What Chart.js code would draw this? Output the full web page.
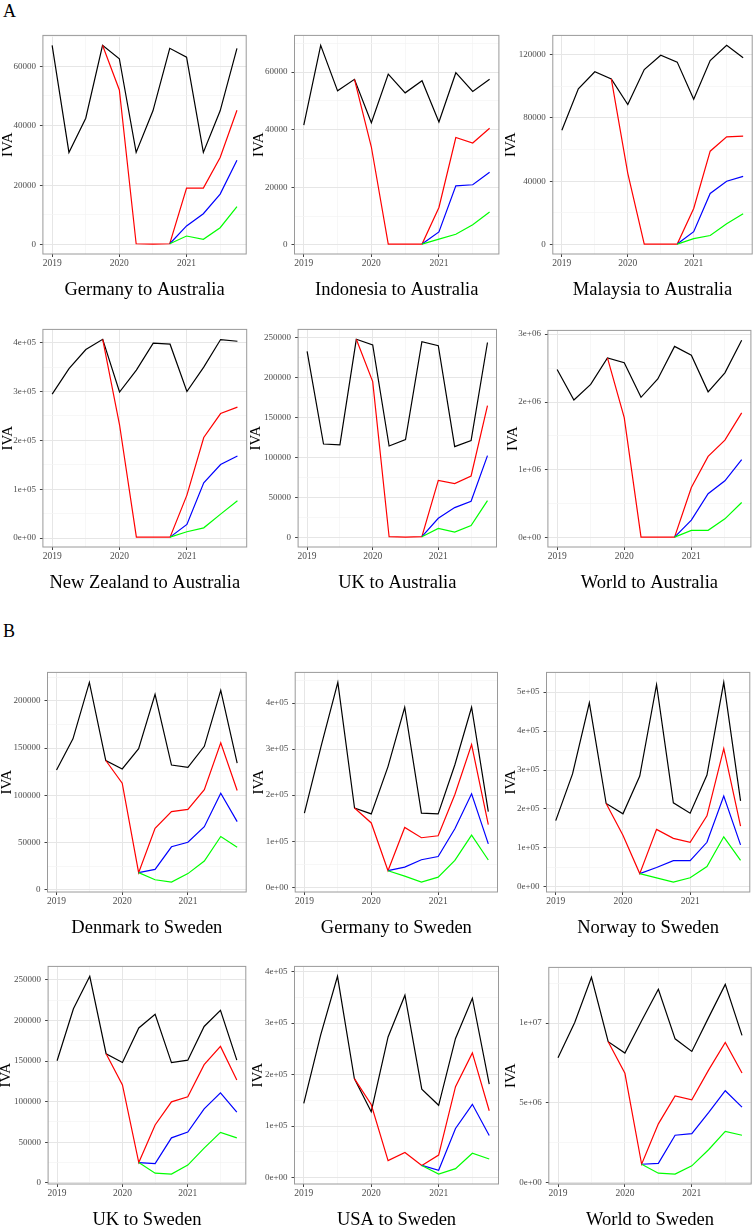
<!DOCTYPE html>
<html>
<head>
<meta charset="utf-8">
<script src="https://cdn.jsdelivr.net/npm/chart.js@4"></script>
<style>
  body { margin: 0; background: #fff; width: 754px; height: 1229px; position: relative; overflow: hidden; font-family: "Liberation Serif", serif; }
  canvas { position: absolute; }
  .tag { position: absolute; left: 3px; font-size: 18px; line-height: 18px; color: #000; }
</style>
</head>
<body>
<div class="tag" style="top:2px">A</div>
<div class="tag" style="top:622px">B</div>
<script>
const quarters = [2019, 2019.25, 2019.5, 2019.75, 2020, 2020.25, 2020.5, 2020.75, 2021, 2021.25, 2021.5, 2021.75];
const n = null;

// Germany to Australia
const gerAusBlack = [67000, 31000, 42500, 67000, 62500, 31000, 45000, 66000, 63000, 31000, 45000, 66000];
const gerAusRed   = [n, n, n, 67000, 52000, 300, 200, 300, 19000, 19000, 29300, 45200];
const gerAusBlue  = [n, n, n, n, n, n, n, 300, 6300, 10400, 17000, 28400];
const gerAusGreen = [n, n, n, n, n, n, n, 300, 2900, 1800, 5700, 12800];

// Indonesia to Australia
const indAusBlack = [41600, 69300, 53500, 57500, 42400, 59300, 52800, 57000, 42700, 59800, 53300, 57500];
const indAusRed   = [n, n, n, 57500, 34000, 300, 300, 300, 13000, 37300, 35400, 40500];
const indAusBlue  = [n, n, n, n, n, n, n, 300, 4500, 20500, 20900, 25200];
const indAusGreen = [n, n, n, n, n, n, n, 300, 2000, 3700, 7000, 11400];

// Malaysia to Australia
const malAusBlack = [72200, 98400, 109200, 104700, 88500, 110600, 119600, 115300, 91900, 116300, 125900, 118000];
const malAusRed   = [n, n, n, 104700, 45000, 300, 300, 300, 22800, 59000, 68100, 68500];
const malAusBlue  = [n, n, n, n, n, n, n, 300, 8100, 32300, 40000, 43100];
const malAusGreen = [n, n, n, n, n, n, n, 300, 3700, 5700, 13200, 19500];

// New Zealand to Australia
const nzlAusBlack = [294600, 347000, 386000, 407000, 299000, 344000, 399000, 397000, 300000, 350000, 406500, 403000];
const nzlAusRed   = [n, n, n, 407000, 232000, 2000, 2000, 2000, 88000, 206000, 255000, 268000];
const nzlAusBlue  = [n, n, n, n, n, n, n, 2000, 28000, 113000, 150600, 168000];
const nzlAusGreen = [n, n, n, n, n, n, n, 2000, 13000, 21000, 49000, 76600];

// UK to Australia
const ukAusBlack = [233000, 117000, 116000, 248000, 241000, 114500, 122600, 245000, 240000, 113700, 121400, 244000];
const ukAusRed   = [n, n, n, 248000, 195000, 1000, 500, 1000, 71500, 67500, 77000, 165000];
const ukAusBlue  = [n, n, n, n, n, n, n, 1000, 24000, 37400, 45400, 102500];
const ukAusGreen = [n, n, n, n, n, n, n, 1000, 11300, 6800, 14900, 46200];

// World to Australia
const wldAusBlack = [2480000, 2030000, 2260000, 2650000, 2580000, 2070000, 2340000, 2820000, 2690000, 2150000, 2430000, 2910000];
const wldAusRed   = [n, n, n, 2650000, 1770000, 10000, 10000, 10000, 740000, 1200000, 1440000, 1840000];
const wldAusBlue  = [n, n, n, n, n, n, n, 10000, 260000, 650000, 840000, 1150000];
const wldAusGreen = [n, n, n, n, n, n, n, 10000, 110000, 110000, 280000, 520000];

// Denmark to Sweden
const dnkSweBlack = [126800, 159700, 219500, 136800, 127900, 149400, 206800, 132000, 129600, 151800, 211000, 134000];
const dnkSweRed   = [n, n, n, 136800, 112800, 18100, 65000, 82700, 85100, 106000, 155600, 105000];
const dnkSweBlue  = [n, n, n, n, n, 18100, 21500, 45500, 50300, 66700, 102200, 72100];
const dnkSweGreen = [n, n, n, n, n, 18100, 10600, 8200, 17100, 30400, 56400, 45100];

// Germany to Sweden
const gerSweBlack = [160700, 306700, 445000, 172000, 159300, 262000, 391000, 160700, 159300, 266000, 391000, 164000];
const gerSweRed   = [n, n, n, 172000, 139600, 35800, 129800, 107400, 111600, 201400, 310000, 136000];
const gerSweBlue  = [n, n, n, n, n, 35800, 43500, 59600, 66700, 127000, 202800, 94000];
const gerSweGreen = [n, n, n, n, n, 35800, 23900, 11200, 21800, 58200, 113000, 59000];

// Norway to Sweden
const norSweBlack = [170000, 290000, 472600, 214000, 187400, 284400, 519000, 215600, 189000, 287000, 525000, 220600];
const norSweRed   = [n, n, n, 214000, 132700, 34000, 147600, 124400, 114400, 182400, 355000, 155900];
const norSweBlue  = [n, n, n, n, n, 34000, 49800, 67200, 67200, 114400, 233000, 107800];
const norSweGreen = [n, n, n, n, n, 34000, 23200, 12400, 23200, 52200, 128500, 68000];

// UK to Sweden
const ukSweBlack = [150300, 214400, 254400, 159000, 148300, 190700, 207700, 148000, 151100, 192600, 212400, 151100];
const ukSweRed   = [n, n, n, 159000, 120600, 24900, 71200, 99700, 106000, 145600, 168000, 126600];
const ukSweBlue  = [n, n, n, n, n, 24900, 23700, 55400, 62500, 91000, 110800, 87000];
const ukSweGreen = [n, n, n, n, n, 24900, 11900, 10700, 21800, 42700, 62100, 55400];

// USA to Sweden
const usaSweBlack = [144000, 276400, 390600, 192200, 128000, 273000, 354000, 171600, 140400, 270000, 348000, 181600];
const usaSweRed   = [n, n, n, 192200, 142000, 33000, 48700, 23700, 43700, 176600, 242000, 129800];
const usaSweBlue  = [n, n, n, n, n, n, n, 23700, 14400, 95500, 142300, 81700];
const usaSweGreen = [n, n, n, n, n, n, n, 23700, 6900, 17500, 47400, 36200];

// World to Sweden
const wldSweBlack = [7820000, 10040000, 12870000, 8830000, 8120000, 10140000, 12120000, 9010000, 8220000, 10340000, 12420000, 9230000];
const wldSweRed   = [n, n, n, 8830000, 6850000, 1150000, 3680000, 5430000, 5190000, 7050000, 8790000, 6870000];
const wldSweBlue  = [n, n, n, n, n, 1150000, 1210000, 2970000, 3070000, 4380000, 5760000, 4730000];
const wldSweGreen = [n, n, n, n, n, 1150000, 590000, 530000, 1050000, 2060000, 3210000, 2970000];

const panels = [
  { title: "Germany to Australia", series: [gerAusBlack, gerAusRed, gerAusBlue, gerAusGreen], major: 20000, sci: false },
  { title: "Indonesia to Australia", series: [indAusBlack, indAusRed, indAusBlue, indAusGreen], major: 20000, sci: false },
  { title: "Malaysia to Australia", series: [malAusBlack, malAusRed, malAusBlue, malAusGreen], major: 40000, sci: false },
  { title: "New Zealand to Australia", series: [nzlAusBlack, nzlAusRed, nzlAusBlue, nzlAusGreen], major: 100000, sci: true },
  { title: "UK to Australia", series: [ukAusBlack, ukAusRed, ukAusBlue, ukAusGreen], major: 50000, sci: false },
  { title: "World to Australia", series: [wldAusBlack, wldAusRed, wldAusBlue, wldAusGreen], major: 1000000, sci: true },
  { title: "Denmark to Sweden", series: [dnkSweBlack, dnkSweRed, dnkSweBlue, dnkSweGreen], major: 50000, sci: false },
  { title: "Germany to Sweden", series: [gerSweBlack, gerSweRed, gerSweBlue, gerSweGreen], major: 100000, sci: true },
  { title: "Norway to Sweden", series: [norSweBlack, norSweRed, norSweBlue, norSweGreen], major: 100000, sci: true },
  { title: "UK to Sweden", series: [ukSweBlack, ukSweRed, ukSweBlue, ukSweGreen], major: 50000, sci: false },
  { title: "USA to Sweden", series: [usaSweBlack, usaSweRed, usaSweBlue, usaSweGreen], major: 100000, sci: true },
  { title: "World to Sweden", series: [wldSweBlack, wldSweRed, wldSweBlue, wldSweGreen], major: 5000000, sci: true }
];

// plot panel rectangles on the page: left, top, right, bottom, centre x of the "IVA" label
const boxes = [
  [42.7, 27, 246, 254, 8.3], [294.3, 27, 498.7, 254, 259.3], [552.3, 27, 751.7, 254, 511],
  [42.7, 321, 246.5, 547, 8.3], [298.3, 321, 496.7, 547, 256.7], [547.7, 322, 750.7, 547, 513.3],
  [47.3, 664, 246, 892, 7.3], [295, 664, 497.3, 892, 259.3], [546, 664, 749.3, 892, 511],
  [48.3, 958, 246, 1184, 6.7], [294.3, 958, 498.3, 1184, 258.3], [548.3, 959, 750.7, 1184, 511]
];

const lineColors = ["#000000", "#ff0000", "#0000ff", "#00ff00"];
const serif = "'Liberation Serif', 'Times New Roman', serif";
const XAXIS_H = 17, TITLE_SIZE = 18.5, TITLE_PAD_TOP = 8, TITLE_PAD_BOTTOM = 2;
const TICK_SIZE = 9, IVA_SIZE = 15;

function sciLabel(v) {
  if (v === 0) return "0e+00";
  const e = Math.floor(Math.log10(Math.abs(v)) + 1e-9);
  const m = Math.round(v / Math.pow(10, e));
  return m + "e+" + String(e).padStart(2, "0");
}
function isMultiple(v, step) {
  return Math.abs(v / step - Math.round(v / step)) < 1e-6;
}
// ticks on round multiples of step inside the axis limits
function stepTicks(scale, step) {
  const ticks = [];
  for (let k = Math.ceil(scale.min / step - 1e-9); k * step <= scale.max + 1e-9; k++) {
    ticks.push({ value: Math.round(k * step * 1e6) / 1e6 });
  }
  scale.ticks = ticks;
}

const panelBorder = {
  id: "panelBorder",
  afterDraw(chart) {
    const a = chart.chartArea, ctx = chart.ctx;
    ctx.save();
    ctx.strokeStyle = "#9a9a9a";
    ctx.lineWidth = 1;
    ctx.strokeRect(a.left, a.top, a.right - a.left, a.bottom - a.top);
    ctx.restore();
  }
};

const xMin = quarters[0] - 0.05 * (quarters[quarters.length - 1] - quarters[0]);
const xMax = quarters[quarters.length - 1] + 0.05 * (quarters[quarters.length - 1] - quarters[0]);

panels.forEach((p, i) => {
  const [L, T, R, B, ivaX] = boxes[i];
  const left = ivaX - IVA_SIZE / 2;
  const top = T - 1;
  const rawH = (B - top) + XAXIS_H + TITLE_SIZE * 1.2 + TITLE_PAD_TOP + TITLE_PAD_BOTTOM;
  const height = Math.ceil(rawH);
  const width = Math.ceil(R + 1 - left);
  const yWidth = L - left;

  const canvas = document.createElement("canvas");
  canvas.width = width;
  canvas.height = height;
  canvas.style.left = left + "px";
  canvas.style.top = top + "px";
  canvas.style.width = width + "px";
  canvas.style.height = height + "px";
  document.body.appendChild(canvas);

  const all = p.series.flat().filter(v => v !== null);
  const lo = Math.min(...all), hi = Math.max(...all);
  const pad = 0.05 * (hi - lo);

  const datasets = p.series.map((vals, k) => ({
    data: quarters.map((q, j) => ({ x: q, y: vals[j] })).filter(d => d.y !== null),
    borderColor: lineColors[k],
    borderWidth: 1.2,
    pointRadius: 0,
    tension: 0,
    fill: false,
    order: 4 - k
  }));

  new Chart(canvas, {
    type: "line",
    data: { datasets },
    options: {
      responsive: false,
      animation: false,
      devicePixelRatio: 1,
      layout: { padding: { top: 1, right: width - (R - left), left: 0, bottom: height - rawH } },
      plugins: {
        legend: { display: false },
        tooltip: { enabled: false },
        title: {
          display: true, text: p.title, position: "bottom", fullSize: false, color: "#000",
          font: { family: serif, size: TITLE_SIZE, weight: "normal", lineHeight: 1.2 },
          padding: { top: TITLE_PAD_TOP, bottom: TITLE_PAD_BOTTOM }
        }
      },
      scales: {
        x: {
          type: "linear", min: xMin, max: xMax,
          afterBuildTicks: s => stepTicks(s, 0.5),
          afterFit: s => { s.height = XAXIS_H; },
          border: { display: false },
          grid: {
            color: c => isMultiple(c.tick.value, 1) ? "#e6e6e6" : "#f3f3f3",
            lineWidth: c => isMultiple(c.tick.value, 1) ? 1 : 0.7,
            tickColor: c => isMultiple(c.tick.value, 1) ? "#444" : "rgba(0,0,0,0)",
            tickLength: 3
          },
          ticks: {
            autoSkip: false, maxRotation: 0, padding: 1,
            color: "#4d4d4d", font: { family: serif, size: 9.5 },
            callback: v => isMultiple(v, 1) ? String(Math.round(v)) : ""
          }
        },
        y: {
          type: "linear", min: lo - pad, max: hi + pad,
          afterBuildTicks: s => stepTicks(s, p.major / 2),
          afterFit: s => { s.width = yWidth; },
          border: { display: false },
          title: { display: true, text: "IVA", color: "#000", font: { family: serif, size: IVA_SIZE, lineHeight: 1 }, padding: 0 },
          grid: {
            color: c => isMultiple(c.tick.value, p.major) ? "#e6e6e6" : "#f3f3f3",
            lineWidth: c => isMultiple(c.tick.value, p.major) ? 1 : 0.7,
            tickColor: c => isMultiple(c.tick.value, p.major) ? "#444" : "rgba(0,0,0,0)",
            tickLength: 3
          },
          ticks: {
            autoSkip: false, padding: 4,
            color: "#4d4d4d", font: { family: serif, size: TICK_SIZE },
            callback: v => isMultiple(v, p.major) ? (p.sci ? sciLabel(v) : String(Math.round(v))) : ""
          }
        }
      }
    },
    plugins: [panelBorder]
  });
});
</script>
</body>
</html>
